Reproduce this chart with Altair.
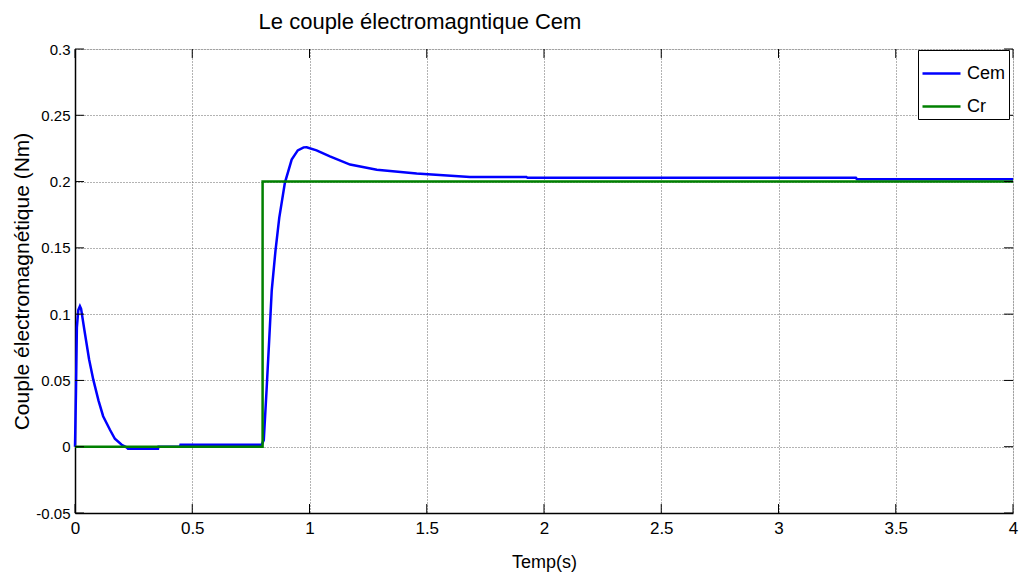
import altair as alt
import pandas as pd

# Electromagnetic torque response (Cem) and load torque step (Cr)
t_cem = [0.0, 0.004, 0.008, 0.014, 0.021, 0.026, 0.04, 0.06, 0.078, 0.10, 0.12,
         0.149, 0.17, 0.199, 0.22, 0.226, 0.354, 0.356, 0.448, 0.45, 0.796,
         0.805, 0.817, 0.828, 0.839, 0.855, 0.871, 0.895, 0.924, 0.95, 0.975,
         0.988, 1.03, 1.087, 1.173, 1.287, 1.457, 1.684, 1.81, 1.925, 1.93,
         3.33, 3.335, 4.0]
cem = [0.0, 0.04, 0.09, 0.103, 0.106, 0.104, 0.088, 0.066, 0.0506, 0.035, 0.023,
       0.0128, 0.006, 0.0015, -0.0005, -0.0015, -0.0015, 0.0, 0.0, 0.0015, 0.0015,
       0.005, 0.043, 0.08, 0.118, 0.148, 0.1726, 0.199, 0.2166, 0.2235, 0.2258,
       0.2259, 0.2235, 0.219, 0.2128, 0.209, 0.206, 0.2035, 0.2035, 0.2035, 0.2028,
       0.2028, 0.2017, 0.2017]

t_cr = [0.0, 0.8, 0.8, 4.0]
cr = [0.0, 0.0, 0.2, 0.2]

x_ticks = [0, 0.5, 1, 1.5, 2, 2.5, 3, 3.5, 4]
y_ticks = [-0.05, 0, 0.05, 0.1, 0.15, 0.2, 0.25, 0.3]

FONT = "Liberation Sans"
W, H = 938, 464
TICK = 9
LABEL = "datum.value < 0 ? '-' + format(-datum.value, '~g') : format(datum.value, '~g')"

df = pd.concat([
    pd.DataFrame({"t": t_cem, "v": cem, "serie": "Cem", "ord": range(len(t_cem))}),
    pd.DataFrame({"t": t_cr, "v": cr, "serie": "Cr", "ord": range(len(t_cr))}),
])

xs = alt.Scale(domain=[0, 4], nice=False, zero=False)
ys = alt.Scale(domain=[-0.05, 0.3], nice=False, zero=False)

grid = dict(grid=True, gridDash=[1, 2], gridColor="#666666", gridWidth=1,
            ticks=False, domainColor="black", domainWidth=1.5,
            labelFont=FONT, labelColor="black", labelFlush=False, labelExpr=LABEL,
            titleFontWeight="normal", titleColor="black")

lines = alt.Chart(df).mark_line(strokeWidth=2.5, interpolate="linear").encode(
    x=alt.X("t:Q", scale=xs,
            axis=alt.Axis(values=x_ticks, title="Temp(s)", labelFontSize=17,
                          labelPadding=7, titleFont=FONT, titleFontSize=18,
                          titlePadding=17, **grid)),
    y=alt.Y("v:Q", scale=ys,
            axis=alt.Axis(values=y_ticks, title="Couple électromagnétique (Nm)",
                          labelFontSize=15, labelPadding=5,
                          titleFont=FONT, titleFontSize=21, titlePadding=3, **grid)),
    color=alt.Color("serie:N",
                    scale=alt.Scale(domain=["Cem", "Cr"], range=["#0000ff", "#008000"]),
                    legend=alt.Legend(title=None, orient="none", legendX=843, legendY=1,
                                      symbolType="stroke", symbolSize=1444,
                                      symbolStrokeWidth=2.5, labelFont=FONT,
                                      labelFontSize=18, labelColor="black",
                                      labelOffset=5, padding=3, rowPadding=3,
                                      strokeColor="black", fillColor="white")),
    order="ord:Q",
)

# inward tick marks on all four sides of the frame
xt = pd.DataFrame({"t": x_ticks})
yt = pd.DataFrame({"v": y_ticks})
xb = alt.Chart(xt).mark_rule(color="black", strokeWidth=1).encode(
    x=alt.X("t:Q", scale=xs), y=alt.value(H), y2=alt.value(H - TICK))
xtop = alt.Chart(xt).mark_rule(color="black", strokeWidth=1).encode(
    x=alt.X("t:Q", scale=xs), y=alt.value(0), y2=alt.value(TICK))
yl = alt.Chart(yt).mark_rule(color="black", strokeWidth=1).encode(
    y=alt.Y("v:Q", scale=ys), x=alt.value(0), x2=alt.value(TICK))
yr = alt.Chart(yt).mark_rule(color="black", strokeWidth=1).encode(
    y=alt.Y("v:Q", scale=ys), x=alt.value(W), x2=alt.value(W - TICK))

chart = alt.layer(lines, xb, xtop, yl, yr).properties(
    width=W, height=H,
    title=alt.TitleParams("Le couple électromagntique Cem", font=FONT, fontSize=22,
                          fontWeight="normal", color="black", offset=8,
                          anchor="middle", frame="group", dx=-124),
    autosize=alt.AutoSizeParams(type="none"),
    padding={"left": 75, "top": 49, "right": 9, "bottom": 65},
).configure_view(stroke="black", strokeWidth=1.5).configure(background="white")

chart.save("out.html", embed_options={"renderer": "svg", "actions": False})
